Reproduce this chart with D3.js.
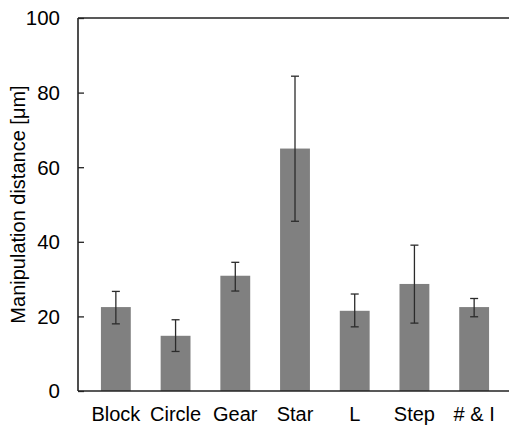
<!DOCTYPE html>
<html>
<head>
<meta charset="utf-8">
<script src="https://cdn.jsdelivr.net/npm/d3@7"></script>
<style>
  body { margin: 0; background: #fff; }
  text { font-family: "Liberation Sans", Arial, sans-serif; fill: #000; }
</style>
</head>
<body>
<svg id="chart"></svg>
<script>
const categories = ['Block', 'Circle', 'Gear', 'Star', 'L', 'Step', '# & I'];
const means = [22.5, 14.8, 30.9, 65.0, 21.5, 28.7, 22.5];
const errLow = [18.0, 10.6, 26.8, 45.5, 17.2, 18.2, 19.9];
const errHigh = [26.7, 19.1, 34.5, 84.4, 26.0, 39.1, 24.8];
const yTicks = [0, 20, 40, 60, 80, 100];

const width = 509;
const height = 426;

const svg = d3.select('#chart')
    .attr('width', width)
    .attr('height', height);

const y = d3.scaleLinear()
    .domain([0, 100])
    .range([391, 18]);

const x = d3.scaleBand()
    .domain(categories)
    .range([86, 504])
    .paddingInner(0.5)
    .paddingOuter(0.25);

const axisX = 78;

// bars
svg.selectAll('.bar')
    .data(categories)
    .enter()
    .append('rect')
    .attr('class', 'bar')
    .attr('x', d => x(d))
    .attr('width', x.bandwidth())
    .attr('y', (d, i) => y(means[i]))
    .attr('height', (d, i) => y(0) - y(means[i]))
    .attr('fill', '#808080');

// error bars
const err = svg.selectAll('.err')
    .data(categories)
    .enter()
    .append('g')
    .attr('class', 'err')
    .attr('stroke', '#2b2b2b')
    .attr('stroke-width', 1.3);

err.append('line')
    .attr('x1', d => x(d) + x.bandwidth() / 2)
    .attr('x2', d => x(d) + x.bandwidth() / 2)
    .attr('y1', (d, i) => y(errLow[i]))
    .attr('y2', (d, i) => y(errHigh[i]));

[errLow, errHigh].forEach(arr => {
    err.append('line')
        .attr('x1', d => x(d) + x.bandwidth() / 2 - 4)
        .attr('x2', d => x(d) + x.bandwidth() / 2 + 4)
        .attr('y1', (d, i) => y(arr[i]))
        .attr('y2', (d, i) => y(arr[i]));
});

// frame lines
svg.append('line')
    .attr('x1', axisX).attr('x2', width)
    .attr('y1', y(100)).attr('y2', y(100))
    .attr('stroke', '#222').attr('stroke-width', 1.6);
svg.append('line')
    .attr('x1', axisX).attr('x2', width)
    .attr('y1', y(0)).attr('y2', y(0))
    .attr('stroke', '#222').attr('stroke-width', 1.6);

// y axis, ticks inside
const yAxis = d3.axisRight(y)
    .tickValues(yTicks)
    .tickSize(6)
    .tickFormat('');

const yg = svg.append('g')
    .attr('transform', `translate(${axisX},0)`)
    .call(yAxis);
yg.select('.domain').attr('stroke', '#222').attr('stroke-width', 1.6)
    .attr('d', `M0,${y(0)}V${y(100)}`);
yg.selectAll('.tick line').attr('stroke', '#222').attr('stroke-width', 1.3);

svg.selectAll('.ylab')
    .data(yTicks)
    .enter()
    .append('text')
    .attr('x', 60)
    .attr('y', d => y(d))
    .attr('dy', '0.36em')
    .attr('text-anchor', 'end')
    .style('font-size', '20.5px')
    .text(d => d);

// category labels
svg.selectAll('.xlab')
    .data(categories)
    .enter()
    .append('text')
    .attr('x', d => x(d) + x.bandwidth() / 2)
    .attr('y', 421)
    .attr('text-anchor', 'middle')
    .style('font-size', '20px')
    .text(d => d);

// axis title
svg.append('text')
    .attr('transform', `translate(25,${(y(0) + y(100)) / 2}) rotate(-90)`)
    .attr('text-anchor', 'middle')
    .style('font-size', '20px')
    .text('Manipulation distance [μm]');
</script>
</body>
</html>
